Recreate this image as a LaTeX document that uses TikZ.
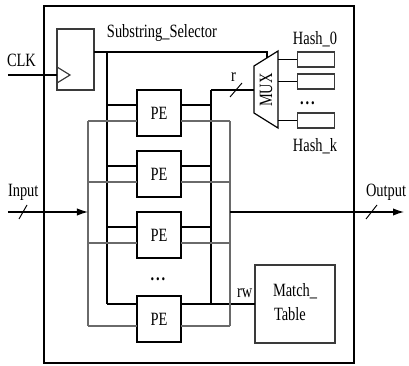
\documentclass[tikz,border=0pt]{standalone}
\usepackage{fontspec}
\setmainfont[FakeStretch=0.77]{Liberation Serif}
\usetikzlibrary{arrows.meta}
\definecolor{BusGray}{HTML}{6A6A6A}
\definecolor{BoxGray}{HTML}{3A3A3A}

\tikzset{
  pebox/.style={draw,line width=1.1pt,minimum width=1.32cm,minimum height=1.38cm,inner sep=0pt,outer sep=0pt},
  hashbox/.style={draw=BoxGray,line width=1pt,minimum width=1.11cm,minimum height=0.45cm,inner sep=0pt,outer sep=0pt},
  lbl/.style={inner sep=0pt,outer sep=0pt},
  wire/.style={line width=1pt},
  gwire/.style={line width=1pt,draw=BusGray},
  slash/.style={line width=0.8pt},
  arr/.style={-{Latex[length=3.3mm,width=2.2mm]}},
}

\begin{document}
\begin{tikzpicture}[x=0.03cm,y=-0.03cm,font=\fontsize{16}{19}\selectfont]
\useasboundingbox (0,0) rectangle (409,366);
% chip outline
\draw[line width=1.3pt] (44,6) rectangle (354,363);

% substring selector register
\node[draw=BoxGray,line width=1pt,minimum width=1.11cm,minimum height=1.83cm,inner sep=0pt,outer sep=0pt] (reg) at (75.5,59.5) {};
\draw[wire,BoxGray] (57,67) -- (70,75) -- (57,83);
\node[lbl,anchor=base west] (sellbl) at (107,38) {Substring\_Selector};
\coordinate (clk) at (8,75);
\node[lbl,anchor=base west] (clklbl) at (7,67) {CLK};
\draw[wire] (clk) -- (clk -| reg.west);

% processing elements
\node[pebox] (pe1) at (159,113) {PE};
\node[pebox] (pe2) at (159,174) {PE};
\node[pebox] (pe3) at (159,235) {PE};
\node[pebox] (pe4) at (159,319) {PE};
\node[lbl] (pedots) at (158,279) {\textbf{.\kern1.6pt.\kern1.6pt.}};

% mux and hash tables
\coordinate (muxTL) at (254,66);
\coordinate (muxTR) at (278,51);
\coordinate (muxBR) at (278,128);
\coordinate (muxBL) at (254,113);
\draw[line width=1pt] (muxTL) -- (muxTR) -- (muxBR) -- (muxBL) -- cycle;
\node[lbl,rotate=90] (mux) at (266,90) {MUX};
\node[hashbox] (hash0) at (316,59.5) {};
\node[hashbox] (hash1) at (316,81.5) {};
\node[hashbox] (hashk) at (316,120.5) {};
\node[lbl] (hashdots) at (307.5,103) {\textbf{.\kern1.6pt.\kern1.6pt.}};
\node[lbl,anchor=base] (h0lbl) at (315,45) {Hash\_0};
\node[lbl,anchor=base] (hklbl) at (315,152) {Hash\_k};
\draw[wire] (hash0.west) -- (hash0.west -| muxTR);
\draw[wire] (hash1.west) -- (hash1.west -| muxTR);
\draw[wire] (hashk.west) -- (hashk.west -| muxTR);

% match table
\node[draw=BoxGray,line width=1pt,minimum width=2.4cm,minimum height=2.34cm,inner sep=0pt,outer sep=0pt] (match) at (295,304) {};
\node[lbl,anchor=base west] (matchlbl) at (273,297) {Match\_};
\node[lbl,anchor=base west] (tablelbl) at (274,321) {Table};
\node[lbl,anchor=base west] (rwlbl) at (237,298) {rw};

% selector bus
\coordinate (selbus) at (107,52);
\coordinate (muxsel) at (267,58.5);
\draw[wire] ([yshift=.225cm]reg.east) -| (muxsel);
\draw[wire] (selbus) -- ([yshift=.45cm]pe4.west -| selbus);
\draw[wire] ([yshift=.24cm]pe1.west) -- ([yshift=.24cm]pe1.west -| selbus);
\draw[wire] ([yshift=.24cm]pe2.west) -- ([yshift=.24cm]pe2.west -| selbus);
\draw[wire] ([yshift=.24cm]pe3.west) -- ([yshift=.24cm]pe3.west -| selbus);
\draw[wire] ([yshift=.45cm]pe4.west) -- ([yshift=.45cm]pe4.west -| selbus);

% input bus
\coordinate (inbus) at (88,212);
\coordinate (inp) at (8,212);
\draw[gwire] ([yshift=-.24cm]pe1.west -| inbus) -- ([yshift=-.21cm]pe4.west -| inbus);
\draw[gwire] ([yshift=-.24cm]pe1.west) -- ([yshift=-.24cm]pe1.west -| inbus);
\draw[gwire] ([yshift=-.24cm]pe2.west) -- ([yshift=-.24cm]pe2.west -| inbus);
\draw[gwire] ([yshift=-.24cm]pe3.west) -- ([yshift=-.24cm]pe3.west -| inbus);
\draw[gwire] ([yshift=-.21cm]pe4.west) -- ([yshift=-.21cm]pe4.west -| inbus);
\draw[wire,arr] (inp) -- (inbus);
\draw[slash] (19,219) -- (27,205);
\node[lbl,anchor=base west] (inlbl) at (8,197) {Input};

% r bus to mux
\coordinate (rbus) at (211,90);
\draw[wire] (rbus) -- (rbus -| muxTL);
\draw[wire] (rbus) -- ([yshift=.45cm]pe4.east -| rbus);
\draw[wire] ([yshift=.24cm]pe1.east) -- ([yshift=.24cm]pe1.east -| rbus);
\draw[wire] ([yshift=.24cm]pe2.east) -- ([yshift=.24cm]pe2.east -| rbus);
\draw[wire] ([yshift=.24cm]pe3.east) -- ([yshift=.24cm]pe3.east -| rbus);
\draw[wire] ([yshift=.45cm]pe4.east) -- ([yshift=.45cm]pe4.east -| match.west);
\draw[slash] (230,97) -- (242,83);
\node[lbl,anchor=base west] (rlbl) at (231,82) {r};

% output bus
\coordinate (outbus) at (230,212);
\coordinate (outp) at (404,212);
\draw[gwire] ([yshift=-.24cm]pe1.east -| outbus) -- ([yshift=-.21cm]pe4.east -| outbus);
\draw[gwire] ([yshift=-.24cm]pe1.east) -- ([yshift=-.24cm]pe1.east -| outbus);
\draw[gwire] ([yshift=-.24cm]pe2.east) -- ([yshift=-.24cm]pe2.east -| outbus);
\draw[gwire] ([yshift=-.24cm]pe3.east) -- ([yshift=-.24cm]pe3.east -| outbus);
\draw[gwire] ([yshift=-.21cm]pe4.east) -- ([yshift=-.21cm]pe4.east -| outbus);
\draw[wire,arr] (outbus) -- (outp);
\draw[slash] (366,219) -- (377,205);
\node[lbl,anchor=base west] (outlbl) at (366,197) {Output};
\end{tikzpicture}
\end{document}
